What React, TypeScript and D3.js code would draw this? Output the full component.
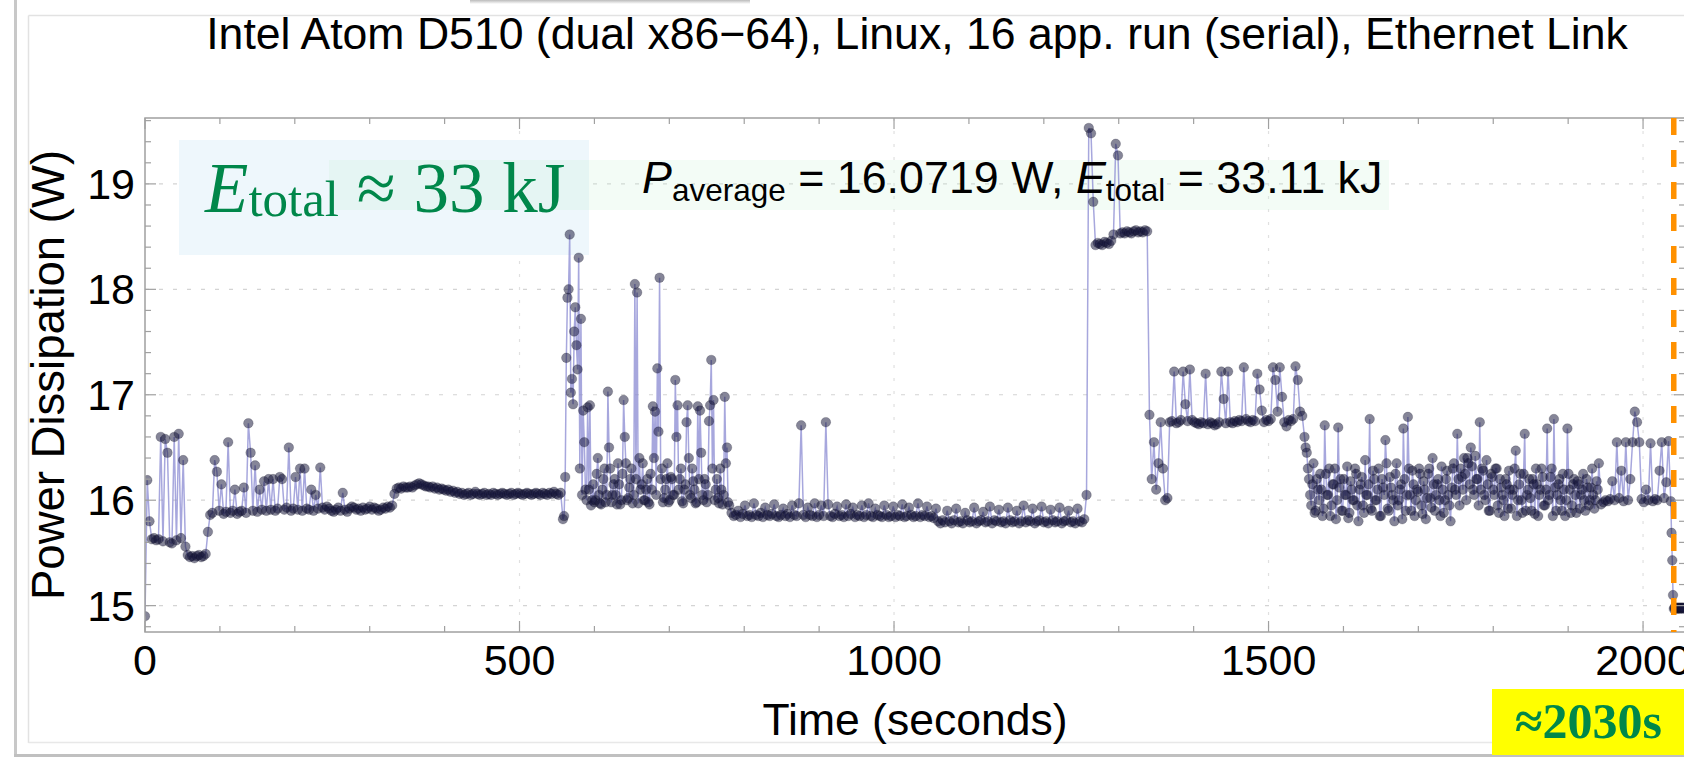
import React from 'react';
import * as d3 from 'd3';

// ---- data (seconds, watts) ----
const segmentStarts = [0, 90, 333, 558, 783, 1059, 1257, 1341, 1371, 1548, 1944, 2038, 559.5, 1549.5];
const segmentSteps = [3, 3, 3, 3, 3, 3, 3, 3, 3, 3, 3, 1, 3, 3];

const seg0 = [14.9, 16.19, 15.8, 15.63, 15.64, 15.62, 15.63, 16.6, 15.61, 16.58, 16.45, 15.6, 15.59, 16.6, 15.62, 16.63, 15.64, 16.38, 15.56, 15.48, 15.46, 15.47, 15.45, 15.47, 15.48, 15.46, 15.47, 15.49, 15.7, 15.86];
const seg1 = [15.88, 16.38, 16.27, 15.9, 16.15, 15.87, 15.89, 16.55, 15.88, 15.9, 16.1, 15.87, 15.89, 15.9, 16.12, 15.88, 16.73, 16.45, 15.9, 16.33, 15.89, 16.1, 15.91, 16.18, 15.9, 16.2, 15.91, 16.2, 15.9, 15.92, 16.22, 16.2, 15.91, 15.93, 16.5, 15.9, 15.92, 16.22, 15.91, 16.3, 15.9, 16.3, 15.92, 15.91, 16.1, 15.9, 16.05, 15.92, 16.31, 15.93, 15.91, 15.94, 15.92, 15.9, 15.89, 15.91, 15.93, 15.9, 16.07, 15.91, 15.89, 15.92, 15.94, 15.93, 15.91, 15.92, 15.9, 15.93, 15.91, 15.92, 15.94, 15.91, 15.93, 15.92, 15.9, 15.91, 15.93, 15.92, 15.94, 15.93, 15.95];
const seg2 = [16.06, 16.11, 16.12, 16.11, 16.13, 16.12, 16.12, 16.13, 16.12, 16.14, 16.15, 16.16, 16.15, 16.14, 16.13, 16.13, 16.12, 16.13, 16.11, 16.12, 16.1, 16.11, 16.1, 16.09, 16.1, 16.08, 16.09, 16.07, 16.08, 16.06, 16.07, 16.05, 16.06, 16.07, 16.05, 16.06, 16.08, 16.06, 16.05, 16.06, 16.07, 16.05, 16.06, 16.05, 16.07, 16.06, 16.05, 16.06, 16.07, 16.06, 16.05, 16.06, 16.07, 16.05, 16.06, 16.07, 16.06, 16.05, 16.06, 16.07, 16.06, 16.05, 16.06, 16.07, 16.06, 16.05, 16.07, 16.06, 16.05, 16.07, 16.06, 16.08, 16.06, 16.05, 16.07];
const seg3 = [15.82, 16.22, 17.92, 18.52, 17.15, 17.6, 17.47, 18.3, 17.72, 16.85, 16.1, 16.88, 16.9, 16.0, 15.98, 16.25, 16.05, 15.96, 16.2, 15.98, 17.03, 16.3, 16.05, 16.2, 15.96, 16.15, 16.0, 16.95, 16.35, 16.02, 16.2, 15.97, 18.05, 17.97, 16.4, 16.15, 16.0, 16.1, 15.98, 16.25, 16.89, 16.84, 17.25, 18.11, 16.3, 16.02, 16.2, 15.98, 16.22, 16.05, 17.14, 16.9, 16.2, 15.99, 16.1, 16.74, 16.4, 16.02, 16.18, 15.97, 16.89, 16.85, 16.05, 16.2, 15.98, 16.75, 17.33, 16.95, 16.1, 16.02, 16.3, 15.96, 16.98, 16.5, 15.95];
const seg4 = [15.88, 15.85, 15.86, 15.9, 15.84, 15.87, 15.95, 15.85, 15.86, 15.84, 15.97, 15.86, 15.85, 15.88, 15.84, 15.93, 15.86, 15.85, 15.87, 15.96, 15.85, 15.84, 15.86, 15.92, 15.85, 15.87, 15.84, 15.95, 15.86, 15.85, 15.97, 16.71, 15.86, 15.84, 15.93, 15.86, 15.85, 15.97, 15.84, 15.86, 15.95, 15.85, 16.74, 15.96, 15.85, 15.84, 15.87, 15.94, 15.85, 15.86, 15.84, 15.96, 15.85, 15.87, 15.93, 15.84, 15.86, 15.85, 15.95, 15.84, 15.86, 15.97, 15.85, 15.84, 15.92, 15.86, 15.85, 15.84, 15.95, 15.86, 15.84, 15.85, 15.94, 15.84, 15.86, 15.85, 15.96, 15.84, 15.85, 15.93, 15.86, 15.84, 15.85, 15.97, 15.84, 15.86, 15.85, 15.94, 15.84, 15.85, 15.83, 15.92];
const seg5 = [15.8, 15.78, 15.81, 15.79, 15.9, 15.8, 15.78, 15.81, 15.92, 15.79, 15.8, 15.78, 15.88, 15.81, 15.79, 15.8, 15.93, 15.78, 15.8, 15.81, 15.89, 15.79, 15.8, 15.94, 15.78, 15.81, 15.8, 15.91, 15.79, 15.8, 15.78, 15.93, 15.81, 15.79, 15.8, 15.9, 15.78, 15.8, 15.95, 15.79, 15.81, 15.8, 15.92, 15.78, 15.8, 15.81, 15.94, 15.79, 15.8, 15.78, 15.91, 15.81, 15.79, 15.8, 15.93, 15.78, 15.8, 15.81, 15.9, 15.79, 15.8, 15.78, 15.92, 15.8, 15.79, 15.82];
const seg6 = [16.05, 19.53, 19.48, 18.83, 18.42, 18.44, 18.43, 18.42, 18.45, 18.44, 18.43, 18.46, 18.52, 19.38, 19.27, 18.53, 18.54, 18.53, 18.55, 18.54, 18.53, 18.55, 18.56, 18.54, 18.55, 18.54, 18.56, 18.55];
const seg7 = [16.81, 16.2, 16.55, 16.1, 16.35, 16.74, 16.3, 16.0, 16.02, 16.74];
const seg8 = [16.75, 17.22, 16.73, 16.74, 16.76, 17.22, 16.91, 16.75, 17.24, 16.76, 16.74, 16.73, 16.72, 16.74, 16.73, 17.2, 16.72, 16.74, 16.73, 16.71, 16.72, 16.74, 17.22, 16.96, 16.73, 17.22, 16.74, 16.73, 16.75, 16.74, 16.76, 16.75, 17.26, 16.77, 16.75, 16.74, 16.76, 16.75, 17.2, 17.05, 16.85, 16.74, 16.76, 16.75, 16.77, 17.26, 17.14, 16.84, 17.26, 16.98, 16.74, 16.7, 16.76, 16.75, 16.77, 17.27, 17.14, 16.84, 16.8];
const seg9 = [16.6, 16.45, 16.2, 15.95, 16.35, 15.9, 16.1, 16.25, 15.85, 16.71, 16.05, 16.3, 15.95, 16.15, 15.82, 16.69, 16.2, 15.9, 16.05, 16.32, 15.88, 16.1, 16.0, 16.25, 15.8, 16.15, 15.95, 16.38, 16.05, 16.77, 15.9, 16.2, 16.0, 16.3, 15.85, 16.12, 16.57, 15.92, 16.22, 16.05, 15.8, 16.35, 16.0, 16.15, 16.68, 15.9, 16.79, 16.05, 16.28, 15.85, 16.1, 16.3, 15.95, 16.18, 15.82, 16.25, 16.02, 16.4, 15.9, 16.15, 16.0, 16.32, 15.88, 16.2, 16.05, 15.8, 16.3, 16.1, 16.63, 15.95, 16.22, 16.4, 16.0, 16.35, 16.5, 16.1, 16.42, 16.2, 16.74, 16.3, 16.05, 16.38, 15.9, 16.25, 16.1, 16.3, 15.95, 16.2, 16.05, 15.85, 16.15, 16.28, 15.92, 16.1, 16.47, 16.0, 16.25, 15.88, 16.63, 16.05, 16.2, 15.9, 16.15, 16.3, 15.85, 16.1, 16.22, 15.95, 16.68, 16.05, 16.3, 16.77, 15.9, 16.15, 16.0, 16.25, 15.85, 16.68, 16.1, 15.95, 16.2, 15.88, 16.15, 16.05, 16.25, 15.9, 16.12, 16.0, 16.3, 15.92, 16.18, 16.35];
const seg10 = [15.96, 15.98, 16.0, 15.99, 16.01, 16.18, 16.0, 16.55, 16.02, 16.28, 15.99, 16.55, 16.0, 16.2, 16.55, 16.84, 16.74, 16.55, 16.01, 15.98, 16.1, 16.0, 16.54, 15.99, 16.01, 16.0, 16.28, 16.55, 16.02, 16.17, 16.56, 15.99];
const seg11 = [15.69, 15.43, 15.1, 14.97, 14.98, 14.97, 14.98, 14.98, 14.97, 14.98, 14.98, 14.97, 14.98, 14.98, 14.98, 14.97, 14.98, 14.98];
// interleaved samples of the two noisy stretches
const seg3b = [15.85, 17.35, 18.0, 17.02, 16.91, 17.83, 17.24, 16.3, 16.05, 16.55, 16.0, 16.1, 15.95, 16.15, 16.0, 16.4, 15.97, 16.1, 16.3, 16.05, 16.5, 15.98, 16.15, 16.05, 16.35, 15.96, 16.25, 16.6, 16.0, 16.12, 16.3, 16.05, 16.2, 15.97, 16.1, 16.35, 16.0, 16.2, 15.96, 16.1, 16.4, 16.05, 16.65, 16.2, 15.98, 16.1, 16.35, 16.0, 16.2, 16.05, 16.6, 16.1, 16.3, 15.97, 16.15, 16.9, 16.05, 16.3, 16.1, 15.98, 16.2, 16.45, 16.0, 16.15, 16.05, 16.9, 16.3, 16.0, 16.2, 15.97, 16.1, 16.05, 16.35, 15.98];
const seg9b = [16.5, 16.3, 16.05, 16.15, 15.88, 16.2, 16.0, 16.1, 15.92, 16.25, 16.05, 15.85, 16.15, 16.3, 16.0, 16.12, 15.9, 16.2, 16.05, 15.83, 16.18, 16.0, 16.3, 15.95, 16.1, 16.22, 15.88, 16.05, 16.15, 15.92, 16.28, 16.0, 16.1, 15.85, 16.2, 16.05, 16.35, 15.9, 16.12, 16.0, 16.25, 15.95, 16.1, 15.82, 16.2, 16.05, 16.3, 15.9, 16.15, 16.0, 16.08, 16.25, 15.87, 16.1, 16.02, 16.3, 15.93, 16.15, 16.05, 16.2, 15.85, 16.1, 16.0, 16.28, 15.95, 16.12, 16.35, 16.05, 16.2, 16.3, 16.1, 16.25, 16.4, 16.15, 16.32, 16.05, 16.2, 15.95, 16.1, 16.28, 16.0, 16.15, 15.9, 16.22, 16.05, 16.3, 15.88, 16.12, 16.0, 16.2, 15.92, 16.1, 16.05, 16.3, 15.85, 16.15, 16.0, 16.25, 15.9, 16.1, 16.02, 16.2, 15.87, 16.15, 16.05, 16.3, 15.95, 16.1, 16.0, 16.22, 15.85, 16.12, 16.05, 16.2, 15.9, 16.1, 16.0, 16.25, 15.88, 16.15, 16.05, 16.18, 15.92, 16.1, 16.0, 16.2, 15.95, 16.12, 16.05, 16.0, 16.1];
const segments = [seg0, seg1, seg2, seg3, seg4, seg5, seg6, seg7, seg8, seg9, seg10, seg11, seg3b, seg9b];

const xMajorTicks = [0, 500, 1000, 1500, 2000];
const yMajorTicks = [15, 16, 17, 18, 19];
const markerTime = 2041;

const titleText = 'Intel Atom D510 (dual x86\u221264), Linux, 16 app. run (serial), Ethernet Link';

const SANS = '"Liberation Sans", Arial, Helvetica, sans-serif';
const SERIF = '"Liberation Serif", "Times New Roman", serif';
const GREEN = '#00874a';

export default function App() {
  const x = d3.scaleLinear().domain([0, 2056]).range([145, 1685]);
  const y = d3.scaleLinear().domain([14.75, 19.625]).range([632, 118]);

  const pts: [number, number][] = [];
  segments.forEach((seg, i) => {
    seg.forEach((v, j) => pts.push([segmentStarts[i] + j * segmentSteps[i], v]));
  });
  pts.sort((a, b) => a[0] - b[0]);

  const line = d3.line<[number, number]>().x(d => x(d[0])).y(d => y(d[1]));
  const [x0, x1] = x.range();
  const [yb, yt] = y.range();

  const xMinor = d3.range(0, 2057, 100);
  const yMinor = d3.range(14.8, 19.61, 0.2);

  return (
    <svg width={1684} height={758} style={{ position: 'absolute', left: 0, top: 0, background: '#fff' }}
      xmlns="http://www.w3.org/2000/svg">
      <defs>
        <clipPath id="plotclip">
          <rect x={x0} y={yt} width={x1 - x0} height={yb - yt} />
        </clipPath>
        <linearGradient id="shadowTop" x1="0" y1="0" x2="0" y2="1">
          <stop offset="0" stopColor="#bbb" />
          <stop offset="1" stopColor="#fff" />
        </linearGradient>
      </defs>

      {/* page frames */}
      <rect x={470} y={0} width={280} height={4} fill="url(#shadowTop)" />
      <line x1={15.5} y1={0} x2={15.5} y2={756} stroke="#c8c8c8" strokeWidth={3} />
      <line x1={14} y1={755.5} x2={1684} y2={755.5} stroke="#c0c0c0" strokeWidth={3} />
      <line x1={28.5} y1={15.5} x2={1684} y2={15.5} stroke="#e2e2e2" strokeWidth={1.5} />
      <line x1={28.5} y1={15.5} x2={28.5} y2={743} stroke="#e2e2e2" strokeWidth={1.5} />
      <line x1={28.5} y1={742.5} x2={1684} y2={742.5} stroke="#e8e8e8" strokeWidth={1.5} />

      {/* title */}
      <text x={917} y={49} textAnchor="middle" fontFamily={SANS} fontSize={44.6} fill="#000">{titleText}</text>

      {/* gridlines */}
      {yMajorTicks.map(t => (
        <line key={'gy' + t} x1={x0} x2={x1} y1={y(t)} y2={y(t)} stroke="#d4d4d4" strokeWidth={1.2} strokeDasharray="4,10" />
      ))}
      {xMajorTicks.filter(t => t > 0).map(t => (
        <line key={'gx' + t} x1={x(t)} x2={x(t)} y1={yt} y2={yb} stroke="#e0e0e0" strokeWidth={1.2} strokeDasharray="3,10" />
      ))}

      {/* annotation boxes */}
      <rect x={179} y={140} width={410} height={115} fill="#eef7fc" />
      <rect x={329} y={160} width={1060} height={50} fill="#c8f0d4" fillOpacity={0.22} />

      {/* data */}
      <g clipPath="url(#plotclip)">
        <path d={line(pts) || ''} fill="none" stroke="#8a8ad2" strokeOpacity={0.75} strokeWidth={1.5} />
        {pts.map((p, i) => (
          <circle key={i} cx={x(p[0])} cy={y(p[1])} r={4.8} fill="#15153a" fillOpacity={0.52}
            stroke="#101020" strokeOpacity={0.25} strokeWidth={0.8} />
        ))}
      </g>

      {/* frame */}
      <rect x={x0} y={yt} width={x1 - x0} height={yb - yt} fill="none" stroke="#a0a0a0" strokeWidth={1.5} />
      {xMinor.map(t => {
        const L = t % 500 === 0 ? 11 : 6;
        return (
          <g key={'xt' + t}>
            <line x1={x(t)} x2={x(t)} y1={yb} y2={yb - L} stroke="#a0a0a0" strokeWidth={1.2} />
            <line x1={x(t)} x2={x(t)} y1={yt} y2={yt + L} stroke="#a0a0a0" strokeWidth={1.2} />
          </g>
        );
      })}
      {yMinor.map(t => {
        const major = Math.abs(t - Math.round(t)) < 1e-6;
        const L = major ? 11 : 6;
        return (
          <g key={'yt' + t.toFixed(1)}>
            <line x1={x0} x2={x0 + L} y1={y(t)} y2={y(t)} stroke="#a0a0a0" strokeWidth={1.2} />
            <line x1={x1} x2={x1 - L} y1={y(t)} y2={y(t)} stroke="#a0a0a0" strokeWidth={1.2} />
          </g>
        );
      })}

      {/* tick labels */}
      {xMajorTicks.map(t => (
        <text key={'xl' + t} x={x(t)} y={675} textAnchor="middle" fontFamily={SANS} fontSize={43} fill="#000">{t}</text>
      ))}
      {yMajorTicks.map(t => (
        <text key={'yl' + t} x={135} y={y(t) + 15} textAnchor="end" fontFamily={SANS} fontSize={43} fill="#000">{t}</text>
      ))}

      {/* axis labels */}
      <text x={915} y={735} textAnchor="middle" fontFamily={SANS} fontSize={44.5} fill="#000">Time (seconds)</text>
      <text transform={`translate(64,${(yt + yb) / 2}) rotate(-90)`} textAnchor="middle" fontFamily={SANS} fontSize={45.5} fill="#000">Power Dissipation (W)</text>

      {/* annotation texts */}
      <text x={205} y={212} fontFamily={SERIF} fontSize={71} fill={GREEN}>
        <tspan fontStyle="italic">E</tspan>
        <tspan fontSize={51} dy={4}>total</tspan>
        <tspan dy={-4}> ≈ 33 kJ</tspan>
      </text>
      <text x={642} y={193} fontFamily={SANS} fontSize={44.8} fill="#000">
        <tspan fontStyle="italic">P</tspan>
        <tspan fontSize={31.5} dy={8}>average</tspan>
        <tspan dy={-8}> = 16.0719 W, </tspan>
        <tspan fontStyle="italic">E</tspan>
        <tspan fontSize={31.5} dy={8}>total</tspan>
        <tspan dy={-8}> = 33.11 kJ</tspan>
      </text>

      {/* marker line */}
      <line x1={x(markerTime)} x2={x(markerTime)} y1={yt} y2={yb} stroke="#ff9100" strokeWidth={5.5} strokeDasharray="17,15" />

      {/* yellow label */}
      <rect x={1492} y={689} width={192} height={66} fill="#ffff00" />
      <text x={1515} y={738} fontFamily={SERIF} fontWeight="bold" fontSize={50} fill={GREEN}>≈2030s</text>
    </svg>
  );
}
